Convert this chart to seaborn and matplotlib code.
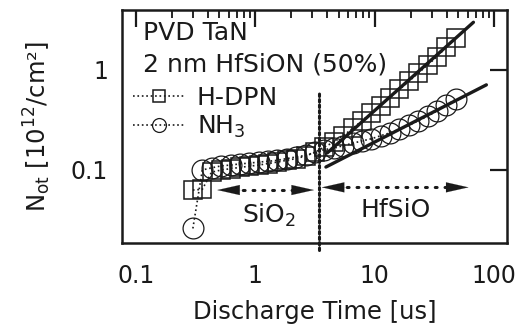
import numpy as np
import pandas as pd
import matplotlib
matplotlib.use('Agg')
import matplotlib.pyplot as plt
import seaborn as sns
from matplotlib.lines import Line2D
from matplotlib.ticker import FixedLocator, FixedFormatter, NullLocator

# discharge time [us] and trapped charge N_ot [1e12 /cm2]
time_us = [0.30, 0.36, 0.43, 0.52, 0.62, 0.74, 0.89, 1.07, 1.28, 1.53, 1.84, 2.2, 2.64, 3.16,
           3.79, 4.54, 5.44, 6.52, 7.81, 9.36, 11.2, 13.4, 16.1, 19.3, 23.1, 27.7, 33.2, 39.8, 47.7]
n_hdpn = [0.063, 0.064, 0.095, 0.1, 0.103, 0.106, 0.109, 0.112, 0.116, 0.12, 0.125, 0.13, 0.138, 0.15,
          0.17, 0.19, 0.22, 0.26, 0.31, 0.37, 0.44, 0.53, 0.64, 0.77, 0.93, 1.12, 1.36, 1.7, 2.1]
n_nh3 = [0.026, 0.10, 0.105, 0.11, 0.112, 0.115, 0.117, 0.12, 0.122, 0.125, 0.13, 0.135, 0.14, 0.15,
         0.16, 0.165, 0.175, 0.185, 0.195, 0.205, 0.22, 0.235, 0.255, 0.28, 0.31, 0.345, 0.39, 0.445, 0.51]

# fitted lines (end points)
fit_hdpn_t = [4.0, 67]
fit_hdpn_n = [0.148, 3.0]
fit_nh3_t = [3.9, 86]
fit_nh3_n = [0.107, 0.71]

boundary_t = 3.4
boundary_n = [0.0158, 0.59]
sio2_arrow_t = [0.48, 3.1]
hfsio_arrow_t = [3.6, 61]
arrow_n = [0.063, 0.067]

x_ticks = [0.1, 1, 10, 100]
x_labels = ['0.1', '1', '10', '100']
y_ticks = [0.1, 1]
y_labels = ['0.1', '1']

sns.set_theme(style='white')
plt.rcParams['font.family'] = ['DejaVu Sans']
plt.rcParams['mathtext.default'] = 'regular'
plt.rcParams['text.color'] = 'k'

df = pd.DataFrame({'t': time_us, 'hdpn': n_hdpn, 'nh3': n_nh3})

fig = plt.figure(figsize=(5.32, 3.26), dpi=100)
ax = fig.add_axes([0.2293, 0.2546, 0.7237, 0.7147])

sns.lineplot(data=df, x='t', y='hdpn', ax=ax, sort=False, estimator=None, color='k',
             linestyle=':', lw=1.2, marker='s', markersize=13.5, markerfacecolor='none',
             markeredgecolor='k', markeredgewidth=1.1)
sns.lineplot(data=df, x='t', y='nh3', ax=ax, sort=False, estimator=None, color='k',
             linestyle=':', lw=1.2, marker='o', markersize=15, markerfacecolor='none',
             markeredgecolor='k', markeredgewidth=0.9)
sns.lineplot(x=fit_hdpn_t, y=fit_hdpn_n, ax=ax, color='k', lw=2.4, estimator=None)
sns.lineplot(x=fit_nh3_t, y=fit_nh3_n, ax=ax, color='k', lw=2.4, estimator=None)

ax.plot([boundary_t, boundary_t], boundary_n, color='k', lw=2.2,
        linestyle=(0, (0.8, 1.0)), dash_capstyle='round', clip_on=False)

for (t0, t1), yv in zip([sio2_arrow_t, hfsio_arrow_t], arrow_n):
    ax.plot([t0 * 1.35, t1 / 1.35], [yv, yv], color='k', lw=2.2,
            linestyle=(0, (0.6, 2.6)), dash_capstyle='round')
    for a, b in [(t0 * 1.6, t0), (t1 / 1.6, t1)]:
        ax.annotate('', xy=(b, yv), xytext=(a, yv),
                    arrowprops=dict(arrowstyle='-|>,head_length=1.6,head_width=0.36',
                                    mutation_scale=10, color='k', lw=0.1,
                                    shrinkA=0, shrinkB=0))

ax.set_xscale('log')
ax.set_yscale('log')
ax.set_xlim(0.0765, 128)
ax.set_ylim(0.0186, 3.98)

ax.xaxis.set_major_locator(FixedLocator(x_ticks))
ax.xaxis.set_major_formatter(FixedFormatter(x_labels))
ax.xaxis.set_minor_locator(FixedLocator([k * 10.0 ** e for e in (-1, 0, 1) for k in range(2, 10)]))
ax.yaxis.set_major_locator(FixedLocator(y_ticks))
ax.yaxis.set_major_formatter(FixedFormatter(y_labels))
ax.yaxis.set_minor_locator(NullLocator())

ax.tick_params(which='major', direction='in', length=12, width=1.6, top=True, right=True,
               labelsize=17, colors='k')
ax.tick_params(axis='x', which='major', pad=15)
ax.tick_params(axis='y', which='major', pad=10)
ax.tick_params(which='minor', direction='in', length=6, width=1.4, top=True, right=True)
for s in ax.spines.values():
    s.set_linewidth(1.8)
    s.set_color('k')

ax.set_xlabel('Discharge Time [us]', fontsize=17.5, color='k')
ax.set_ylabel('N$_{ot}$ [10$^{12}$/cm²]', fontsize=17.5, color='k')
ax.xaxis.set_label_coords(0.5, -0.245)
ax.yaxis.set_label_coords(-0.18, 0.5)

ax.text(0.0545, 0.87, 'PVD TaN', transform=ax.transAxes, fontsize=18, va='baseline')
ax.text(0.0545, 0.737, '2 nm HfSiON (50%)', transform=ax.transAxes, fontsize=18, va='baseline')
ax.text(1.31, 0.0355, 'SiO$_2$', fontsize=18, ha='center', va='center')
ax.text(15, 0.04, 'HfSiO', fontsize=18, ha='center', va='center')

handles = [
    Line2D([], [], color='k', linestyle=':', lw=1.2, marker='s', markersize=9,
           markerfacecolor='none', markeredgecolor='k', markeredgewidth=1.1),
    Line2D([], [], color='k', linestyle=':', lw=1.2, marker='o', markersize=10,
           markerfacecolor='none', markeredgecolor='k', markeredgewidth=0.9),
]
ax.legend(handles, ['H-DPN', 'NH$_3$'], loc='upper left', bbox_to_anchor=(0.0286, 0.675),
          frameon=False, fontsize=18, handlelength=2.08, handletextpad=0.48,
          labelspacing=0.15, borderpad=0, borderaxespad=0)

fig.savefig('out.png', dpi=100)
